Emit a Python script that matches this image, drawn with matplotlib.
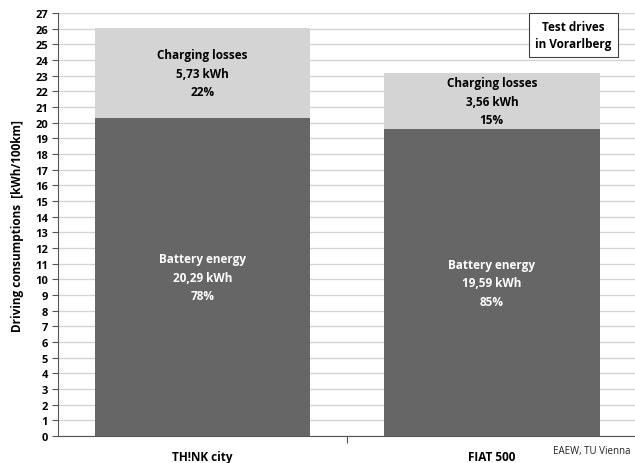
import numpy as np
import matplotlib.pyplot as plt

cars = ['TH!NK city', 'FIAT 500']
battery = [20.29, 19.59]
losses = [5.73, 3.56]
battery_pct = [78, 85]
losses_pct = [22, 15]

plt.rcParams['font.family'] = ['Open Sans', 'DejaVu Sans']

fig = plt.figure(figsize=(6.35, 4.64), dpi=100)
ax = fig.add_axes([0.0913, 0.0582, 0.911, 0.9116])

x = np.arange(len(cars))
w = 0.745
ax.bar(x, battery, w, color='#666666', zorder=2)
ax.bar(x, losses, w, bottom=battery, color='#d4d4d4', zorder=2)

def fmt(v):
    return ('%.2f' % v).replace('.', ',')

for i in range(len(cars)):
    ax.text(x[i], battery[i] / 2, 'Battery energy\n%s kWh\n%d%%' % (fmt(battery[i]), battery_pct[i]),
            ha='center', va='center', color='white', fontsize=8.5, fontweight='bold', linespacing=1.55)
    ax.text(x[i], battery[i] + losses[i] / 2,
            'Charging losses\n%s kWh\n%d%%' % (fmt(losses[i]), losses_pct[i]),
            ha='center', va='center', color='black', fontsize=8.5, fontweight='bold', linespacing=1.55)

ax.set_xlim(-0.5, 1.5)
ax.set_ylim(0, 27)
ax.set_yticks(range(0, 28))
ax.set_xticks([0.5, 1.5])
ax.set_xticklabels([])
ax.tick_params(axis='x', length=5, color='#555555')
ax.tick_params(axis='y', length=4, color='#555555', labelsize=8, pad=3)
for lab in ax.get_yticklabels():
    lab.set_fontweight('bold')
for i in range(len(cars)):
    ax.text(x[i], -1.3, cars[i], ha='center', va='center', fontsize=8.5, fontweight='bold')

ax.grid(axis='y', color='#d4d4d4', linewidth=1, zorder=0)
ax.set_axisbelow(True)
for s in ['top', 'right']:
    ax.spines[s].set_visible(False)
for s in ['left', 'bottom']:
    ax.spines[s].set_color('#555555')

ax.set_ylabel('Driving consumptions  [kWh/100km]', fontsize=8.5, fontweight='bold', labelpad=8)

fig.text(0.903, 0.922, 'Test drives\nin Vorarlberg', ha='center', va='center', fontsize=8.5,
         fontweight='bold', linespacing=1.45,
         bbox=dict(boxstyle='square,pad=0.55', facecolor='white', edgecolor='#404040', linewidth=0.8))
fig.text(0.871, 0.027, 'EAEW, TU Vienna', ha='left', va='center', fontsize=7, color='#222222')

fig.savefig('out.png', dpi=100)
